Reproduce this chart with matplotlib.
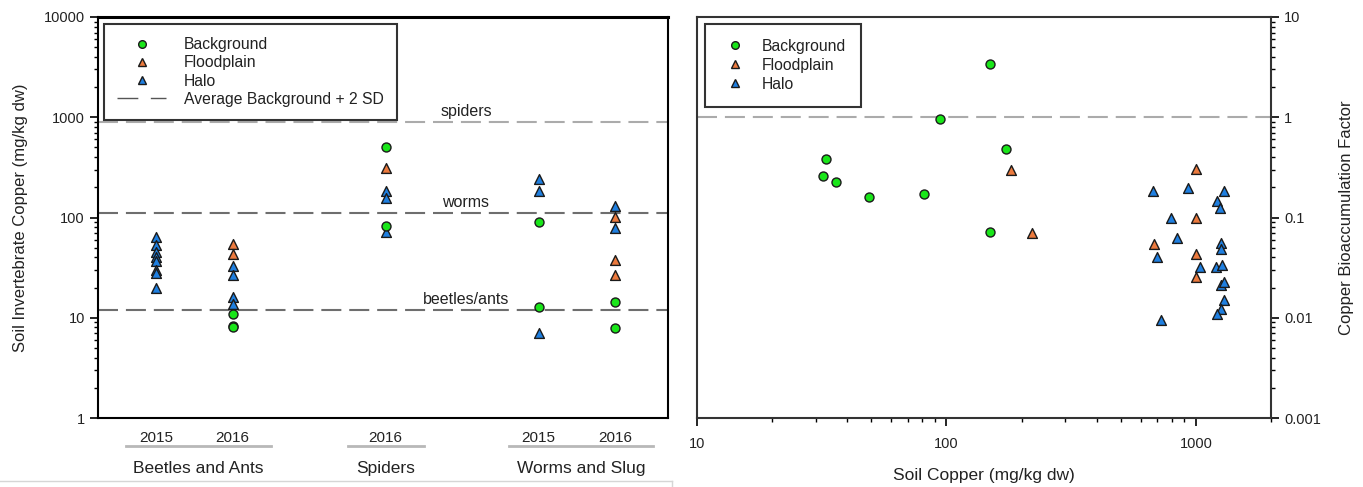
import matplotlib
matplotlib.use("Agg")
import matplotlib.pyplot as plt
from matplotlib.ticker import FixedLocator, FuncFormatter, LogLocator, NullFormatter
from matplotlib.lines import Line2D
import matplotlib.transforms as mtransforms

plt.rcParams['font.family'] = ['Liberation Sans', 'DejaVu Sans']

# ---------------- data: left panel ----------------
taxa = ["Beetles and Ants", "Spiders", "Worms and Slug"]
years = ["2015", "2016", "2016", "2015", "2016"]
taxon_of_group = [0, 0, 1, 2, 2]
bg_vals = [[], [10.8, 8.3, 8.0], [509, 83], [91, 12.8], [14.2, 7.9]]
fp_vals = [[], [55, 43.5], [310], [], [101, 37.8, 26.4]]
halo_vals = [[64, 53, 45, 40, 37, 30, 28, 20], [33, 27, 16, 13.8],
             [185, 155, 71], [241, 185, 7.0], [130, 79]]
thresh_vals = [898, 111, 12.0]
thresh_names = ["spiders", "worms", "beetles/ants"]

# ---------------- data: right panel ----------------
bg_soil = [150, 94, 173, 33, 32, 36, 49, 81, 150]
bg_baf = [3.4, 0.96, 0.48, 0.38, 0.26, 0.225, 0.16, 0.17, 0.072]
fp_soil = [181, 220, 1005, 1005, 680, 1005, 1005]
fp_baf = [0.30, 0.070, 0.305, 0.099, 0.054, 0.043, 0.0255]
halo_soil = [673, 928, 1295, 1218, 1252, 798, 842, 1256, 1266, 698,
             1043, 1204, 1272, 1256, 1295, 1295, 1256, 1213, 723]
halo_baf = [0.185, 0.196, 0.182, 0.146, 0.123, 0.098, 0.062, 0.056, 0.048, 0.040,
            0.032, 0.032, 0.0335, 0.021, 0.0226, 0.015, 0.0123, 0.011, 0.0095]
baf_ref = 1.0

# ---------------- style ----------------
C_BG = "#19e619"
C_FP = "#ec7a3e"
C_HALO = "#1f7fe0"
EDGE = "#1a1a1a"
TXT = "#222222"
MS = 42
W, H = 1363, 487

fig = plt.figure(figsize=(W / 100, H / 100), dpi=100)

def fx(px):
    return px / W

def fy(py):
    return 1 - py / H

axL = fig.add_axes([fx(98), fy(418), fx(668) - fx(98), fy(17) - fy(418)])
axR = fig.add_axes([fx(697), fy(418), fx(1271) - fx(697), fy(17) - fy(418)])

positions = [1, 2, 4, 6, 7]

# ---- left panel ----
for i, p in enumerate(positions):
    if halo_vals[i]:
        axL.scatter([p] * len(halo_vals[i]), halo_vals[i], marker="^", s=MS + 8,
                    color=C_HALO, edgecolor=EDGE, linewidth=1.0, zorder=3)
    if fp_vals[i]:
        axL.scatter([p] * len(fp_vals[i]), fp_vals[i], marker="^", s=MS + 8,
                    color=C_FP, edgecolor=EDGE, linewidth=1.0, zorder=3)
    if bg_vals[i]:
        axL.scatter([p] * len(bg_vals[i]), bg_vals[i], marker="o", s=MS,
                    color=C_BG, edgecolor=EDGE, linewidth=1.0, zorder=4)

th_colors = ["#ababab", "#6e6e6e", "#6e6e6e"]
for v, name, c in zip(thresh_vals, thresh_names, th_colors):
    axL.axhline(v, color=c, lw=1.5, dashes=(9.6, 3.8), zorder=1)
    axL.text(5.05, v * 1.07, name, ha="center", va="bottom", fontsize=11.5, color=TXT)

axL.set_yscale("log")
axL.set_ylim(1, 10000)
axL.set_xlim(0.24, 7.69)
axL.yaxis.set_major_locator(FixedLocator([1, 10, 100, 1000, 10000]))
axL.yaxis.set_major_formatter(FuncFormatter(lambda v, p: f"{v:g}"))
axL.yaxis.set_minor_locator(LogLocator(base=10, subs=range(2, 10)))
axL.yaxis.set_minor_formatter(NullFormatter())
axL.tick_params(axis="y", which="major", length=6, width=1.2, labelsize=10.5, labelcolor=TXT)
axL.tick_params(axis="y", which="minor", length=3, width=1.0)
axL.set_xticks(positions)
axL.set_xticklabels(years)
axL.tick_params(axis="x", length=0, pad=9, labelsize=11, labelcolor=TXT)
axL.set_ylabel("Soil Invertebrate Copper (mg/kg dw)", fontsize=12, color=TXT, labelpad=11)
for s in axL.spines.values():
    s.set_linewidth(1.5)
axL.spines["top"].set_linewidth(2.2)

trans = mtransforms.blended_transform_factory(axL.transData, axL.transAxes)
for t, name in enumerate(taxa):
    ps = [positions[i] for i in range(len(positions)) if taxon_of_group[i] == t]
    x0, x1 = min(ps) - 0.39, max(ps) + 0.5
    if len(ps) == 1:
        x0, x1 = ps[0] - 0.49, ps[0] + 0.5
    axL.plot([x0, x1], [-0.07, -0.07], transform=trans, color="#b8b8b8", lw=2.0,
             clip_on=False)
    axL.text((x0 + x1) / 2, -0.126, name, transform=trans, ha="center", va="center",
             fontsize=12.5, color=TXT)

hL = [Line2D([], [], marker="o", ls="", color=C_BG, mec=EDGE, ms=5.5, label="Background"),
      Line2D([], [], marker="^", ls="", color=C_FP, mec=EDGE, ms=6, label="Floodplain"),
      Line2D([], [], marker="^", ls="", color=C_HALO, mec=EDGE, ms=6, label="Halo"),
      Line2D([], [], color="#555555", lw=1.0, dashes=(15, 9), label="Average Background + 2 SD")]
legL = axL.legend(handles=hL, loc="upper left", bbox_to_anchor=(0.0105, 0.9825),
                  fontsize=11.3, frameon=True, fancybox=False, edgecolor="black",
                  handlelength=3.1, handletextpad=1.15, labelspacing=0.2,
                  borderpad=0.85, borderaxespad=0.0)
legL.get_frame().set_linewidth(1.5)
for t in legL.get_texts():
    t.set_color(TXT)

# ---- right panel ----
axR.scatter(halo_soil, halo_baf, marker="^", s=MS + 8, color=C_HALO, edgecolor=EDGE,
            linewidth=1.0, zorder=3)
axR.scatter(fp_soil, fp_baf, marker="^", s=MS + 8, color=C_FP, edgecolor=EDGE,
            linewidth=1.0, zorder=3)
axR.scatter(bg_soil, bg_baf, marker="o", s=MS, color=C_BG, edgecolor=EDGE,
            linewidth=1.0, zorder=4)
axR.axhline(baf_ref, color="#ababab", lw=1.5, dashes=(9.6, 3.8), zorder=1)

axR.set_xscale("log")
axR.set_yscale("log")
axR.set_xlim(10, 2000)
axR.set_ylim(0.001, 10)
axR.yaxis.tick_right()
axR.yaxis.set_label_position("right")
axR.xaxis.set_major_locator(FixedLocator([10, 100, 1000]))
axR.xaxis.set_major_formatter(FuncFormatter(lambda v, p: f"{v:g}"))
axR.xaxis.set_minor_locator(LogLocator(base=10, subs=range(2, 10)))
axR.xaxis.set_minor_formatter(NullFormatter())
axR.yaxis.set_major_locator(FixedLocator([0.001, 0.01, 0.1, 1, 10]))
axR.yaxis.set_major_formatter(FuncFormatter(lambda v, p: f"{v:g}"))
axR.yaxis.set_minor_locator(LogLocator(base=10, subs=range(2, 10)))
axR.yaxis.set_minor_formatter(NullFormatter())
axR.tick_params(which="major", length=6, width=1.2, labelsize=10.5, labelcolor=TXT)
axR.tick_params(which="minor", length=3, width=1.0)
axR.tick_params(axis="x", pad=8)
axR.set_xlabel("Soil Copper (mg/kg dw)", fontsize=12.5, color=TXT, labelpad=12)
axR.set_ylabel("Copper Bioaccumulation Factor", fontsize=12, color=TXT, labelpad=13)
for s in axR.spines.values():
    s.set_linewidth(1.5)
    s.set_color("#333333")

hR = hL[:3]
legR = axR.legend(handles=hR, loc="upper left", bbox_to_anchor=(0.0139, 0.9825),
                  fontsize=11.3, frameon=True, fancybox=False, edgecolor="black",
                  handlelength=1.9, handletextpad=0.75, labelspacing=0.25,
                  borderpad=0.95, borderaxespad=0.0)
legR.get_frame().set_linewidth(1.5)
for t in legR.get_texts():
    t.set_color(TXT)

# screenshot frame artifact
fig.add_artist(Line2D([0, fx(672)], [fy(481), fy(481)], color="#d6d6d6", lw=1))
fig.add_artist(Line2D([fx(672), fx(672)], [fy(481), 0], color="#d6d6d6", lw=1))

fig.savefig("out.png", dpi=100)
